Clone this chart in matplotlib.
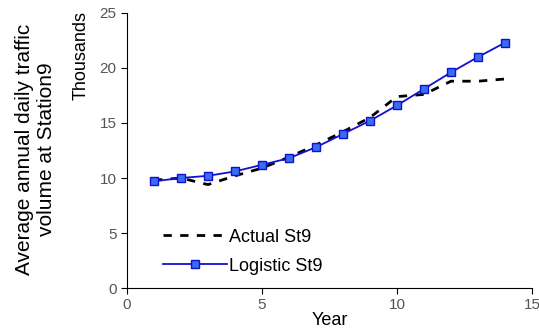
import matplotlib
matplotlib.use("Agg")
import matplotlib.pyplot as plt

plt.rcParams['font.family'] = ['Liberation Sans', 'DejaVu Sans']

years = [1, 2, 3, 4, 5, 6, 7, 8, 9, 10, 11, 12, 13, 14]
actual = [9.8, 10.0, 9.4, 10.2, 10.9, 11.9, 13.0, 14.2, 15.5, 17.4, 17.6, 18.8, 18.8, 19.0]
logistic = [9.7, 10.0, 10.2, 10.6, 11.2, 11.8, 12.8, 14.0, 15.2, 16.6, 18.1, 19.6, 21.0, 22.3]

fig = plt.figure(figsize=(5.39, 3.29), dpi=100)
ax = fig.add_axes([0.2356, 0.1246, 0.7514, 0.8359])

ax.plot(years, actual, '--', color='black', lw=2, dashes=(3, 3), label='Actual St9')
ax.plot(years, logistic, '-', color='#1010d0', lw=1.3, marker='s', ms=6,
        mfc='#3a6cf0', mec='#1010d0', mew=1, label='Logistic St9')

ax.set_xlim(0, 15)
ax.set_ylim(0, 25)
ax.set_xticks([0, 5, 10, 15])
ax.set_yticks([0, 5, 10, 15, 20, 25])
for s in ['top', 'right']:
    ax.spines[s].set_visible(False)
ax.tick_params(labelsize=11, labelcolor='#555555', length=4, width=0.8)
ax.set_xlabel('Year', fontsize=13, labelpad=0)

fig.text(0.150, 0.83, 'Thousands', rotation=90, fontsize=13, ha='center', va='center')
fig.text(0.065, 0.547, 'Average annual daily traffic\nvolume at Station9', rotation=90,
         fontsize=15, ha='center', va='center', multialignment='center', linespacing=1.2)

ax.legend(loc='lower left', bbox_to_anchor=(0.05, -0.01), frameon=False, fontsize=13,
          handlelength=3.5, handletextpad=0.15, labelspacing=0.65)

fig.savefig('out.png', dpi=100)
